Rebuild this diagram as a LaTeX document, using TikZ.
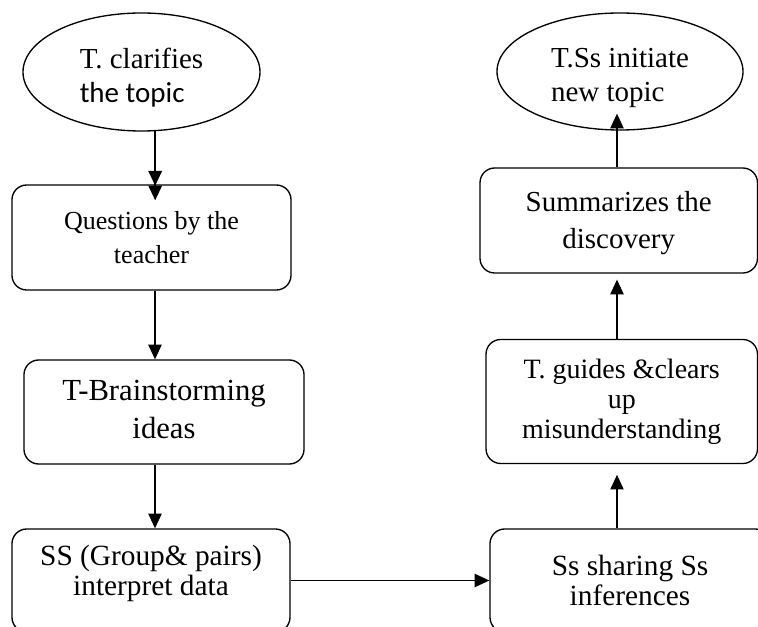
\documentclass[tikz,border=0pt]{standalone}
\usepackage{fontspec}
\setmainfont{Liberation Serif}
\newfontfamily\calibri{Carlito}
\usetikzlibrary{shapes.geometric, arrows.meta}

\begin{document}
\begin{tikzpicture}[x=.75pt, y=-.75pt, line width=1pt,
	box/.style={draw, rectangle, rounded corners=11pt, align=center, inner sep=0pt},
	oval/.style={draw, ellipse, align=left, inner sep=0pt},
	flow/.style={-{Triangle[length=11pt, width=10pt]}, line width=.9pt}]
	% \fs#size#skip
	\def\fs#1#2{\fontsize{#1}{#2}\selectfont}

	\useasboundingbox (0, 0) rectangle (758, 627);
	\clip (0, 0) rectangle (758, 627);

	% left column
	\node[oval, minimum width=177.75pt, minimum height=88.5pt, font=\fs{21.75}{25.5}, text height=49.4pt] (clarify) at (141.5, 72) {T. clarifies\\{\calibri the topic}};
	\node[box, minimum width=209.25pt, minimum height=78.75pt, font=\fs{19.5}{25.5}] (questions) at (151.5, 237.5) {Questions by the\\teacher};
	\node[box, minimum width=210pt, minimum height=78pt, font=\fs{23}{28.5}, text depth=4pt] (brainstorm) at (164, 412) {T-Brainstorming\\ideas};
	\node[box, minimum width=208.5pt, minimum height=77.25pt, font=\fs{22}{22.5}, text depth=14.8pt] (interpret) at (151, 580.5) {SS (Group\& pairs)\\interpret data};

	% right column
	\node[box, minimum width=210pt, minimum height=77.25pt, font=\fs{22}{23}] (sharing) at (630, 580.5) {Ss sharing Ss\\inferences};
	\node[box, minimum width=203.6pt, minimum height=93pt, font=\fs{21}{22.5}] (guides) at (621.75, 401.5) {T. guides \&clears\\up\\misunderstanding};
	\node[box, minimum width=208.1pt, minimum height=78.75pt, font=\fs{21.75}{27.75}, text height=47pt] (summary) at (618.75, 220.5) {Summarizes the\\discovery};
	\node[oval, minimum width=184.5pt, minimum height=87.75pt, font=\fs{21.75}{25.5}, text height=49.4pt] (newtopic) at (620, 71.5) {T.Ss initiate\\new topic};

	% connectors
	\coordinate (lx) at (155, 0);
	\coordinate (rx) at (617, 0);
	\draw[-{Triangle[length=11pt, width=10pt] Triangle[length=11pt, width=10pt]}, line width=1.5pt, shorten >=-12pt] (clarify.-77) -- (clarify.-77 |- questions.north);
	\draw[flow] (lx |- questions.south) -- (lx |- brainstorm.north);
	\draw[flow] (lx |- brainstorm.south) -- (lx |- interpret.north);
	\draw[flow] (interpret.east) -- (sharing.west);
	\draw[flow, shorten >=8pt] (rx |- sharing.north) -- (rx |- guides.south);
	\draw[flow, shorten >=4.5pt] (rx |- guides.north) -- (rx |- summary.south);
	\draw[flow, shorten >=-12.75pt] (rx |- summary.north) -- (rx |- newtopic.south);
\end{tikzpicture}
\end{document}
